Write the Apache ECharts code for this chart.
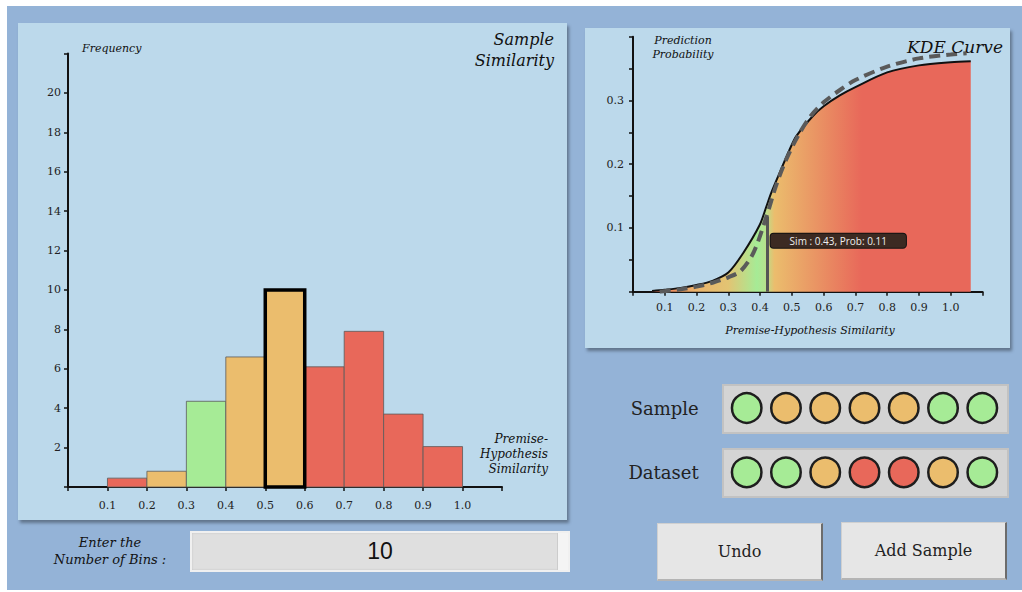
<!DOCTYPE html>
<html>
<head>
<meta charset="utf-8">
<script src="https://cdn.jsdelivr.net/npm/echarts@6/dist/echarts.min.js"></script>
<style>
  body { margin: 0; width: 1022px; height: 592px; overflow: hidden; background: #fff; font-family: "DejaVu Serif", serif; }
  #bg { position: absolute; left: 7px; top: 6px; width: 1015px; height: 584px; background: #94b3d7; }
  .panel { position: absolute; background: #bcd9eb; box-shadow: 2px 3px 3px rgba(0,0,0,0.35); }
  .strip { position: absolute; background: #d4d4d4; border: 2px solid #c2c2c2; box-sizing: border-box; }
  #chart { position: absolute; left: 0; top: 0; width: 1022px; height: 592px; z-index: 1; }
  .btn { position: absolute; z-index: 2; background: #e6e6e6; box-sizing: border-box;
         border: 1px solid #d0d0d0; border-right: 2px solid #6c6c6c; border-bottom: 2px solid #b4b4b4;
         display: flex; align-items: center; justify-content: center; font-size: 16px; color: #222; }
  #bins { position: absolute; z-index: 2; left: 190px; top: 531px; width: 380px; height: 41px; box-sizing: border-box;
          background: #dfdfdf; border: 2px solid #f0f0f0; box-shadow: inset 0 0 2px rgba(0,0,0,0.15);
          font-family: "Liberation Sans", Arial, sans-serif; font-size: 23px; color: #111;
          display: flex; align-items: center; justify-content: center; }
  #spin { position: absolute; right: 0; top: 0; width: 10px; height: 37px; background: #f4f4f4; border-left: 1px solid #ccc; }
  #binsLabel { position: absolute; z-index: 2; left: 40px; top: 534px; width: 140px; text-align: center;
               font-style: italic; font-size: 13px; line-height: 17px; color: #111; }
</style>
</head>
<body>
<div id="bg"></div>
<div class="panel" style="left:18px;top:23px;width:549px;height:497px"></div>
<div class="panel" style="left:585px;top:28px;width:425px;height:320px"></div>
<div class="strip" style="left:722px;top:384px;width:287px;height:50px"></div>
<div class="strip" style="left:722px;top:448px;width:287px;height:50px"></div>
<div id="chart"></div>
<div id="binsLabel">Enter the<br>Number of Bins :</div>
<div id="bins">10<div id="spin"></div></div>
<div class="btn" style="left:657px;top:523px;width:166px;height:58px">Undo</div>
<div class="btn" style="left:841px;top:522px;width:166px;height:58px">Add Sample</div>
<script>
  // histogram bins (start, end) and frequencies
  const binStart = [0.1, 0.2, 0.3, 0.4, 0.5, 0.6, 0.7, 0.8, 0.9]
  const binEnd = [0.2, 0.3, 0.4, 0.5, 0.6, 0.7, 0.8, 0.9, 1.0]
  const binCount = [0.45, 0.8, 4.35, 6.6, 10, 6.1, 7.9, 3.7, 2.05]
  const binClass = ['r', 'o', 'g', 'o', 'o', 'r', 'r', 'r', 'r']
  const selectedBin = 4

  // KDE curve (solid) and reference curve (dashed)
  const kdeX = [0.06, 0.1, 0.15, 0.2, 0.25, 0.3, 0.346, 0.399, 0.42, 0.435, 0.462, 0.493, 0.514, 0.567, 0.6, 0.651, 0.7, 0.8, 0.9, 1.0, 1.063]
  const kdeY = [0.001, 0.003, 0.006, 0.0105, 0.017, 0.03, 0.06, 0.105, 0.134, 0.155, 0.187, 0.223, 0.244, 0.276, 0.291, 0.308, 0.321, 0.344, 0.355, 0.36, 0.3615]
  const refX = [0.084, 0.15, 0.2, 0.25, 0.3, 0.34, 0.38, 0.42, 0.45, 0.48, 0.52, 0.56, 0.6, 0.65, 0.7, 0.8, 0.9, 1.0, 1.05]
  const refY = [0, 0.0037, 0.008, 0.014, 0.0226, 0.033, 0.062, 0.118, 0.166, 0.205, 0.245, 0.276, 0.297, 0.316, 0.332, 0.353, 0.366, 0.372, 0.374]
  const pickSim = 0.43
  const pickProb = 0.11

  // sample / dataset dots
  const rowNames = ['Dataset', 'Sample']
  const sampleDots = ['g', 'o', 'o', 'o', 'o', 'g', 'g']
  const datasetDots = ['g', 'g', 'o', 'r', 'r', 'o', 'g']

  const colors = { r: '#e8685a', o: '#ebbd6d', g: '#a6eb96' }
  const serif = '"DejaVu Serif", serif'
  const italic = { fontFamily: serif, fontStyle: 'italic', fontWeight: 'normal', color: '#111' }
  const tickLabel = { fontFamily: serif, fontSize: 11, color: '#222' }

  const chart = echarts.init(document.getElementById('chart'), null, { renderer: 'svg' })

  const histData = binStart.map((s, i) => [s, binEnd[i], binCount[i]])
  const dots = []
  datasetDots.forEach((c, i) => dots.push({ value: [i, 0], itemStyle: { color: colors[c] } }))
  sampleDots.forEach((c, i) => dots.push({ value: [i, 1], itemStyle: { color: colors[c] } }))

  const span = kdeX[kdeX.length - 1] - kdeX[0]
  const off = v => (v - kdeX[0]) / span
  const kdeFill = new echarts.graphic.LinearGradient(0, 0, 1, 0, [
    { offset: 0, color: '#e8705a' },
    { offset: off(0.2), color: '#ebb46b' },
    { offset: off(0.3), color: '#e2c473' },
    { offset: off(0.39), color: '#a6eb96' },
    { offset: off(0.415), color: '#b4e38e' },
    { offset: off(0.445), color: '#ebbd6d' },
    { offset: off(0.72), color: '#e8685a' },
    { offset: 1, color: '#e8685a' }
  ])

  const axisBlack = { lineStyle: { color: '#111', width: 2 } }
  const tickBlack = { show: true, length: 4, lineStyle: { color: '#111', width: 1.5 } }

  chart.setOption({
    backgroundColor: 'transparent',
    animation: false,
    title: [
      { text: 'Frequency', left: 77, top: 38, textStyle: { ...italic, fontSize: 11 } },
      { text: 'Sample\nSimilarity', left: 549, top: 24, textAlign: 'right',
        textStyle: { ...italic, fontSize: 16, lineHeight: 21, align: 'right' } },
      { text: 'Premise-\nHypothesis\nSimilarity', left: 543, top: 426, textAlign: 'right',
        textStyle: { ...italic, fontSize: 12, lineHeight: 15, align: 'right' } },
      { text: 'Prediction\nProbability', left: 678, top: 28, textAlign: 'center',
        textStyle: { ...italic, fontSize: 11, lineHeight: 14, align: 'center' } },
      { text: 'KDE Curve', left: 998, top: 33, textAlign: 'right', textStyle: { ...italic, fontSize: 17 } },
      { text: 'Premise-Hypothesis Similarity', left: 805, top: 320, textAlign: 'center',
        textStyle: { ...italic, fontSize: 11 } }
    ],
    grid: [
      { left: 68, top: 53.5, width: 434, height: 433.5 },
      { left: 633, top: 36.7, width: 349.5, height: 255 },
      { left: 746.7, top: 408, width: 235.6, height: 64.3 }
    ],
    xAxis: [
      { gridIndex: 0, type: 'value', min: 0, max: 1.1, interval: 0.1, splitLine: { show: false },
        axisLine: axisBlack, axisTick: tickBlack,
        axisLabel: { ...tickLabel, margin: 13, formatter: v => (v > 0.05 && v < 1.05) ? v.toFixed(1) : '' } },
      { gridIndex: 1, type: 'value', min: 0, max: 1.1, interval: 0.1, splitLine: { show: false },
        axisLine: axisBlack, axisTick: tickBlack,
        axisLabel: { ...tickLabel, margin: 10, formatter: v => (v > 0.05 && v < 1.05) ? v.toFixed(1) : '' } },
      { gridIndex: 2, type: 'value', min: 0, max: 6, show: false }
    ],
    yAxis: [
      { gridIndex: 0, type: 'value', min: 0, max: 22, interval: 2, splitLine: { show: false },
        axisLine: axisBlack, axisTick: tickBlack,
        axisLabel: { ...tickLabel, margin: 7, formatter: v => (v > 0 && v < 21) ? v : '' } },
      { gridIndex: 1, type: 'value', min: 0, max: 0.4, interval: 0.05, splitLine: { show: false },
        axisLine: axisBlack, axisTick: tickBlack,
        axisLabel: { ...tickLabel, margin: 9, formatter: v => {
          const t = v * 10
          return (Math.abs(t - Math.round(t)) < 1e-6 && v > 0.05 && v < 0.35) ? v.toFixed(1) : ''
        } } },
      { gridIndex: 2, type: 'category', data: rowNames, boundaryGap: false,
        axisLine: { show: false }, axisTick: { show: false },
        axisLabel: { fontFamily: serif, fontSize: 18, color: '#222', margin: 48 } }
    ],
    series: [
      {
        type: 'custom', xAxisIndex: 0, yAxisIndex: 0, data: histData,
        renderItem: (params, api) => {
          const i = params.dataIndex
          const a = api.coord([api.value(0), api.value(2)])
          const b = api.coord([api.value(1), 0])
          const hl = i === selectedBin
          return {
            type: 'rect', z2: hl ? 10 : 1,
            shape: { x: a[0], y: a[1], width: b[0] - a[0], height: b[1] - a[1] },
            style: { fill: colors[binClass[i]], stroke: hl ? '#000' : '#5a5a5a', lineWidth: hl ? 3.5 : 0.8 }
          }
        }
      },
      {
        type: 'line', xAxisIndex: 1, yAxisIndex: 1, smooth: 0.3, symbol: 'none',
        data: kdeX.map((x, i) => [x, kdeY[i]]),
        lineStyle: { color: '#111', width: 2 },
        areaStyle: { color: kdeFill, opacity: 1 }
      },
      {
        type: 'line', xAxisIndex: 1, yAxisIndex: 1, smooth: 0.3, symbol: 'none',
        data: refX.map((x, i) => [x, refY[i]]),
        lineStyle: { color: '#5a5a5a', width: 4, type: [11, 6] },
        markLine: {
          silent: true, symbol: 'none', label: { show: false },
          lineStyle: { color: '#555', width: 3, type: 'solid' },
          data: [[{ coord: [0.423, 0] }, { coord: [0.423, 0.118] }]]
        },
        markPoint: {
          symbol: 'rect', symbolSize: 0,
          data: [{ coord: [pickSim, 0.08] }],
          label: {
            show: true, position: 'right', distance: 1,
            formatter: 'Sim : ' + pickSim + ', Prob: ' + pickProb,
            fontFamily: '"Open Sans", sans-serif', fontSize: 10, lineHeight: 12, color: '#eee',
            backgroundColor: '#3c2a22', borderColor: '#111', borderWidth: 1, borderRadius: 3,
            padding: [1, 19, 1, 19]
          }
        }
      },
      {
        type: 'scatter', xAxisIndex: 2, yAxisIndex: 2, data: dots,
        symbolSize: 29.5,
        itemStyle: { borderColor: '#1e1e1e', borderWidth: 2.5, opacity: 1 }
      }
    ]
  })
</script>
</body>
</html>
